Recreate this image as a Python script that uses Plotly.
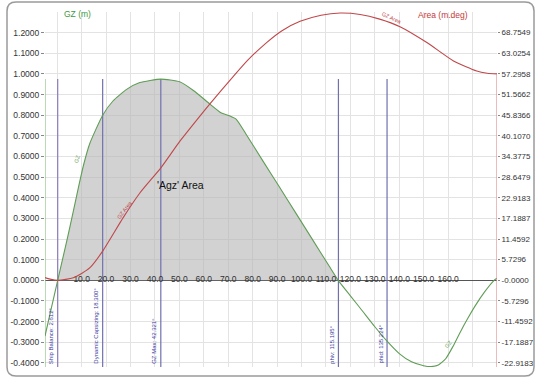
import plotly.graph_objects as go

# ---------------- data ----------------
gz_angles = [-5, -2.5, 0.2, 3.9, 6.6, 8.6, 10.7, 13.4, 18.6, 22.9, 28.4, 33.8, 42.4, 50.1,
             56.3, 62.4, 67.0, 70.5, 73.3, 77.3, 84.1, 90.9, 97.8, 104.5, 111.3, 115.0,
             120.0, 125.0, 130.0, 135.0, 140.0, 145.0, 150.0, 153.0, 156.0, 159.0,
             162.0, 165.0, 168.0, 171.0, 175.0, 178.8, 180.0]
gz_values = [-0.27, -0.14, 0.0, 0.19, 0.335, 0.445, 0.555, 0.665, 0.80, 0.87, 0.925, 0.958, 0.975, 0.962,
             0.915, 0.855, 0.812, 0.797, 0.78, 0.708, 0.58, 0.453, 0.323, 0.197, 0.069, 0.0,
             -0.075, -0.15, -0.225, -0.295, -0.355, -0.395, -0.414, -0.418, -0.41, -0.38,
             -0.32, -0.25, -0.185, -0.125, -0.055, 0.0, 0.01]

area_angles = [-5, -2.5, 0.2, 3.5, 6.6, 10, 13.4, 18.6, 27, 33.9, 42.5, 50.3, 58.4, 62.5, 72.1,
               78.0, 85.7, 92.0, 99.4, 108, 115.8, 124, 132, 140.3, 151.3, 162.2, 171.7, 176.0, 180]
area_values = [0.75, 0.25, 0.0, 0.25, 0.72, 1.9, 3.5, 8.1, 17.4, 24.3, 31.3, 38.7, 45.6, 49.0, 56.6,
               61.1, 66.0, 69.3, 71.9, 73.6, 74.2, 73.8, 72.5, 70.4, 66.0, 60.9, 58.1, 57.5, 57.2958]

crit_positions = [0.2, 18.6, 42.4, 115.1, 135.0]
crit_labels = ["Ship Balance: 2.612°", "Dynamic Capsizing: 18.300°", "GZ Max: 42.321°",
               "phiv: 115.195°", "phid: 135.224°"]
crit_colors = ["#8a78ba", "#7070ae", "#7070ae", "#7070ae", "#7070ae"]

x_tick_vals = [10, 20, 30, 40, 50, 60, 70, 80, 90, 100, 110, 120, 130, 140, 150, 160]
x_tick_text = ["10.0", "20.0", "30.0", "40.0", "50.0", "60.0", "70.0", "80.0", "90.0",
               "100.0", "110.0", "120.0", "130.0", "140.0", "150.0", "160.0"]

gz_tick_vals = [1.2, 1.1, 1.0, 0.9, 0.8, 0.7, 0.6, 0.5, 0.4, 0.3, 0.2, 0.1, 0.0, -0.1, -0.2, -0.3, -0.4]
gz_tick_text = ["1.2000", "1.1000", "1.0000", "0.9000", "0.8000", "0.7000", "0.6000", "0.5000",
                "0.4000", "0.3000", "0.2000", "0.1000", "0.0000", "-0.1000", "-0.2000",
                "-0.3000", "-0.4000"]
area_tick_text = ["68.7549", "63.0254", "57.2958", "51.5662", "45.8366", "40.1070", "34.3775",
                  "28.6479", "22.9183", "17.1887", "11.4592", "5.7296", "-0.0000", "-5.7296",
                  "-11.4592", "-17.1887", "-22.9183"]

DEG = 57.29578
X_RANGE = [-5, 180]
Y_RANGE = [-0.42, 1.3]

FONT = "Liberation Sans, Arial, Helvetica, sans-serif"
GREEN = "#5f9d55"
RED = "#c0474a"

fig = go.Figure()

# positive GZ area (fill)
pos_x = [a for a, v in zip(gz_angles, gz_values) if 0.2 <= a <= 115.0]
pos_y = [v for a, v in zip(gz_angles, gz_values) if 0.2 <= a <= 115.0]
fig.add_trace(go.Scatter(x=pos_x, y=pos_y, mode="lines", line=dict(width=0, shape="spline", smoothing=0.5),
                         fill="tozeroy", fillcolor="rgba(180,180,180,0.6)", hoverinfo="skip",
                         showlegend=False))

# criteria lines
gz_max = max(gz_values)
for pos, col in zip(crit_positions, crit_colors):
    fig.add_trace(go.Scatter(x=[pos, pos], y=[Y_RANGE[0], gz_max], mode="lines",
                             line=dict(color=col, width=1.2), showlegend=False, hoverinfo="skip"))

# left (green) axis line
fig.add_trace(go.Scatter(x=[X_RANGE[0], X_RANGE[0]], y=[Y_RANGE[0], gz_max], mode="lines",
                         line=dict(color="#8cc084", width=1.2), showlegend=False, hoverinfo="skip",
                         cliponaxis=False))

# GZ curve
fig.add_trace(go.Scatter(x=gz_angles, y=gz_values, mode="lines",
                         line=dict(color=GREEN, width=1.1, shape="spline", smoothing=0.5),
                         showlegend=False, hoverinfo="skip"))

# Area curve
fig.add_trace(go.Scatter(x=area_angles, y=area_values, mode="lines", yaxis="y2",
                         line=dict(color=RED, width=1.1, shape="spline", smoothing=0.6),
                         showlegend=False, hoverinfo="skip"))
# right (red) axis line
fig.add_trace(go.Scatter(x=[X_RANGE[1], X_RANGE[1]], y=[Y_RANGE[0] * DEG, area_values[-1]],
                         mode="lines", yaxis="y2", line=dict(color="#e09090", width=1.2),
                         showlegend=False, hoverinfo="skip", cliponaxis=False))

# x tick labels on the zero line
fig.add_trace(go.Scatter(x=x_tick_vals, y=[0] * len(x_tick_vals), mode="text", text=x_tick_text,
                         textposition="middle center", textfont=dict(size=8.5, color="#333", family=FONT),
                         showlegend=False, hoverinfo="skip", cliponaxis=False))

annotations = []
for pos, lab in zip(crit_positions, crit_labels):
    annotations.append(dict(x=pos, y=Y_RANGE[0], xref="x", yref="y", text=lab, textangle=-90,
                            showarrow=False, xanchor="right", yanchor="bottom", xshift=-2, yshift=1,
                            font=dict(size=6, color="#3a3aa0", family=FONT)))

annotations += [
    dict(x=50.5, y=0.464, xref="x", yref="y", text="'Agz' Area", showarrow=False,
         font=dict(size=10.5, color="#111", family=FONT)),
    dict(x=8.1, y=0.588, xref="x", yref="y", text="GZ", showarrow=False, textangle=-72,
         font=dict(size=5.5, color=GREEN, family=FONT)),
    dict(x=160.1, y=-0.307, xref="x", yref="y", text="GZ", showarrow=False, textangle=-50,
         font=dict(size=5.5, color=GREEN, family=FONT)),
    dict(x=27.5, y=0.341, xref="x", yref="y", text="GZ Area", showarrow=False, textangle=-52,
         font=dict(size=5.5, color=RED, family=FONT)),
    dict(x=137.0, y=1.271, xref="x", yref="y", text="GZ Area", showarrow=False, textangle=25,
         font=dict(size=5.5, color=RED, family=FONT)),
    dict(x=0.037, y=1.014, xref="paper", yref="paper", text="GZ (m)", showarrow=False,
         font=dict(size=8.5, color="#3f9a3f", family=FONT)),
    dict(x=0.940, y=1.012, xref="paper", yref="paper", text="Area (m.deg)", showarrow=False,
         font=dict(size=8.5, color="#c43a3a", family=FONT)),
]

# rounded frame around the chart (paper coordinates)
W, H = 452.0, 355.0
def px(x):
    return (x - 45) / W
def py(y):
    return (367 - y) / H
x0, x1, yt, yb = px(7), px(534), py(2), py(376)
rx, ry = 9 / W, 9 / H
frame_path = (f"M {x0+rx},{yt} L {x1-rx},{yt} Q {x1},{yt} {x1},{yt-ry} "
              f"L {x1},{yb+ry} Q {x1},{yb} {x1-rx},{yb} L {x0+rx},{yb} Q {x0},{yb} {x0},{yb+ry} "
              f"L {x0},{yt-ry} Q {x0},{yt} {x0+rx},{yt} Z")

fig.update_layout(
    width=540, height=383,
    margin=dict(l=45, r=43, t=12, b=16, autoexpand=False),
    paper_bgcolor="white", plot_bgcolor="white",
    font=dict(family=FONT, size=8.5, color="#333"),
    showlegend=False,
    xaxis=dict(range=X_RANGE, tick0=0, dtick=10, showticklabels=False, showgrid=True,
               gridcolor="#e3e3e3", gridwidth=1, zeroline=False, showline=False, ticks="",
               automargin=False),
    yaxis=dict(range=Y_RANGE, tickvals=gz_tick_vals, ticktext=gz_tick_text, ticks="outside",
               ticklen=3, tickcolor="#888", showgrid=True, gridcolor="#e3e3e3", gridwidth=1,
               zeroline=True, zerolinecolor="#555", zerolinewidth=1, showline=False,
               tickfont=dict(size=8.5, color="#333"), automargin=False),
    yaxis2=dict(range=[Y_RANGE[0] * DEG, Y_RANGE[1] * DEG], overlaying="y", side="right",
                tickvals=[v * DEG for v in gz_tick_vals], ticktext=area_tick_text,
                ticks="outside", ticklen=2, tickcolor="#888", showgrid=False, zeroline=False,
                showline=False, tickfont=dict(size=8, color="#333"), automargin=False),
    annotations=annotations,
    shapes=[dict(type="path", xref="paper", yref="paper", path=frame_path,
                 line=dict(color="#9a9a9a", width=1.5), fillcolor="rgba(0,0,0,0)", layer="above")],
)

fig.write_html("out.html")
